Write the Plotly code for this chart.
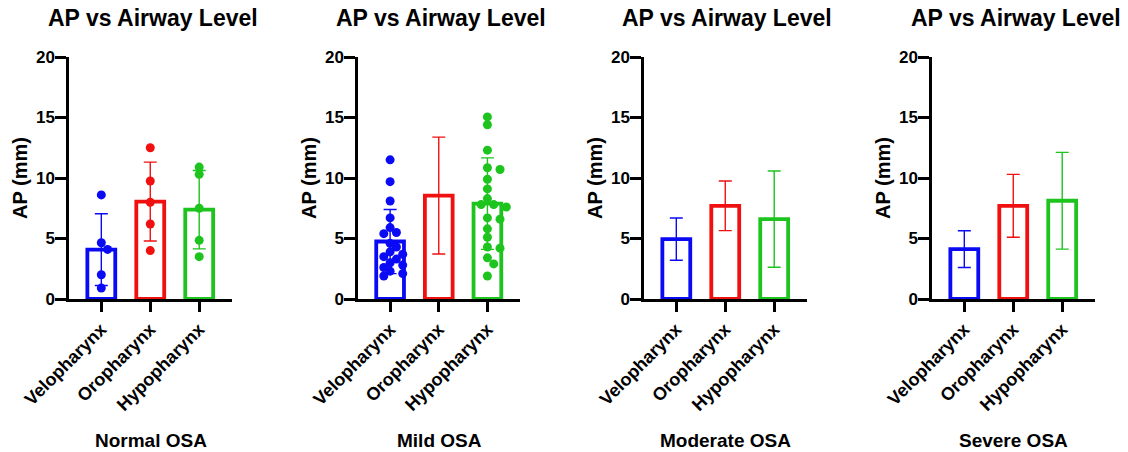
import plotly.graph_objects as go

# ---------------- data ----------------
categories = ["Velopharynx", "Oropharynx", "Hypopharynx"]
groups = ["Normal OSA", "Mild OSA", "Moderate OSA", "Severe OSA"]
panel_title = "AP vs Airway Level"
y_title = "AP (mm)"
y_ticks = [0, 5, 10, 15, 20]

normal_means = [4.08, 8.05, 7.38]
normal_sds = [2.97, 3.26, 3.24]
mild_means = [4.75, 8.55, 7.88]
mild_sds = [2.65, 4.83, 3.78]
moderate_means = [4.95, 7.70, 6.60]
moderate_sds = [1.75, 2.05, 3.98]
severe_means = [4.12, 7.70, 8.12]
severe_sds = [1.52, 2.60, 4.00]

normal_velo = [8.6, 4.65, 4.1, 2.0, 0.9]
normal_oro = [12.5, 9.75, 8.0, 6.2, 4.0]
normal_hypo = [10.9, 10.3, 7.5, 4.85, 3.5]
mild_velo = [11.5, 9.7, 8.1, 6.7, 5.9, 5.5, 5.4, 4.6, 4.3, 3.9, 3.7, 3.5, 3.3,
             3.0, 2.8, 2.6, 2.3, 2.1, 1.9]
mild_hypo = [15.05, 14.4, 12.3, 10.85, 10.7, 9.9, 9.1, 8.3, 7.8, 7.8, 7.6, 6.7,
             6.6, 5.8, 5.1, 4.3, 4.2, 3.4, 2.9, 1.9]

means = [normal_means, mild_means, moderate_means, severe_means]
sds = [normal_sds, mild_sds, moderate_sds, severe_sds]
points = [
    [normal_velo, normal_oro, normal_hypo],
    [mild_velo, [], mild_hypo],
    [[], [], []],
    [[], [], []],
]

# ---------------- style ----------------
colors = ["#0a0af5", "#f01010", "#1ec41e"]
FONT = "Arial, Liberation Sans, sans-serif"
W, H = 1128, 452
panel_px = [(69, 232), (358, 520), (644, 807), (932, 1095)]
y_top_px, y_bot_px = 57, 299
x_range = [-0.66, 2.67]
y_range = [0, 20]
marker_d = 9


def beeswarm(vals, px_per_x, px_per_y, d):
    placed = []
    offs = [0.0] * len(vals)
    order = sorted(range(len(vals)), key=lambda i: -vals[i])
    step = d * 0.7
    for i in order:
        cands = [0.0]
        for n in range(1, 8):
            cands += [n * step, -n * step]
        for c in cands:
            ok = True
            for (px, py) in placed:
                dx = c - px
                dy = (vals[i] - py) * px_per_y
                if (dx * dx + dy * dy) ** 0.5 < d * 0.8:
                    ok = False
                    break
            if ok:
                offs[i] = c / px_per_x
                placed.append((c, vals[i]))
                break
    return offs


fig = go.Figure()
annotations = []
layout_axes = {}

ydom = [1 - y_bot_px / H, 1 - y_top_px / H]
for p in range(4):
    xs = "" if p == 0 else str(p + 1)
    xa, ya = "x" + xs, "y" + xs
    x0, x1 = panel_px[p]
    px_per_x = (x1 - x0) / (x_range[1] - x_range[0])
    px_per_y = (y_bot_px - y_top_px) / (y_range[1] - y_range[0])

    for c in range(3):
        fig.add_trace(go.Bar(
            x=[c], y=[means[p][c]], width=0.57,
            marker=dict(color="rgba(255,255,255,0)",
                        line=dict(color=colors[c], width=3.8)),
            error_y=dict(type="data", array=[sds[p][c]], visible=True,
                         color=colors[c], thickness=1.4, width=6.5),
            xaxis=xa, yaxis=ya, showlegend=False, hoverinfo="skip",
        ))
    for c in range(3):
        vals = points[p][c]
        if not vals:
            continue
        offs = beeswarm(vals, px_per_x, px_per_y, marker_d)
        fig.add_trace(go.Scatter(
            x=[c + o for o in offs], y=vals, mode="markers",
            marker=dict(color=colors[c], size=marker_d, line=dict(width=0)),
            xaxis=xa, yaxis=ya, showlegend=False, hoverinfo="skip",
        ))

    xdom = [x0 / W, x1 / W]
    layout_axes["xaxis" + xs] = dict(
        domain=xdom, range=x_range, anchor=ya, automargin=False,
        tickmode="array", tickvals=[0, 1, 2], ticktext=categories,
        tickangle=-45, ticks="outside", ticklen=10, tickwidth=2.5,
        tickcolor="black", showline=True, linecolor="black", linewidth=2.5,
        showgrid=False, zeroline=False,
        tickfont=dict(family=FONT, size=18, color="black", weight="bold"),
    )
    layout_axes["yaxis" + xs] = dict(
        domain=ydom, range=y_range, anchor=xa, automargin=False,
        tickmode="array", tickvals=y_ticks,
        ticks="outside", ticklen=11, tickwidth=2.5, tickcolor="black",
        ticklabelstandoff=-3,
        showline=True, linecolor="black", linewidth=2.5,
        showgrid=False, zeroline=False,
        tickfont=dict(family=FONT, size=17, color="black", weight="bold"),
    )
    cx = (x0 + x1) / 2 / W
    annotations.append(dict(
        text=panel_title, x=cx + 2 / W, y=1 - 18 / H, xref="paper", yref="paper",
        xanchor="center", yanchor="middle", showarrow=False,
        font=dict(family=FONT, size=23, color="black", weight="bold"),
    ))
    annotations.append(dict(
        text=groups[p], x=cx, y=1 - 440 / H, xref="paper", yref="paper",
        xanchor="center", yanchor="middle", showarrow=False,
        font=dict(family=FONT, size=19, color="black", weight="bold"),
    ))
    annotations.append(dict(
        text=y_title, x=(x0 - 49) / W, y=(ydom[0] + ydom[1]) / 2,
        xref="paper", yref="paper", textangle=-90,
        xanchor="center", yanchor="middle", showarrow=False,
        font=dict(family=FONT, size=20, color="black", weight="bold"),
    ))

fig.update_layout(
    width=W, height=H, margin=dict(l=0, r=0, t=0, b=0, autoexpand=False),
    paper_bgcolor="white", plot_bgcolor="white",
    barmode="overlay", annotations=annotations, **layout_axes,
)
fig.write_html(
    "out.html",
    config={"displayModeBar": False},
    post_script="document.body.style.margin='0';document.body.style.overflow='hidden';",
)
